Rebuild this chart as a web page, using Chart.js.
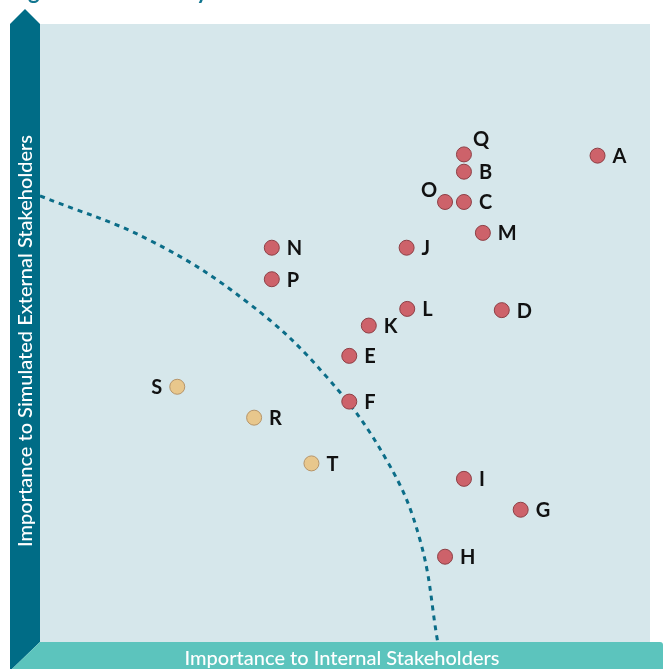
<!DOCTYPE html>
<html>
<head>
<meta charset="utf-8">
<script src="https://cdn.jsdelivr.net/npm/chart.js@4"></script>
<style>
  html, body { margin: 0; padding: 0; background: #fff; }
  canvas { display: block; }
</style>
</head>
<body>
<canvas id="matrix" width="663" height="669"></canvas>
<script>
// Issue positions (x = internal, y = external), 0-10 scale
const redLabels = ['A', 'Q', 'B', 'O', 'C', 'M', 'J', 'N', 'P', 'L', 'D', 'K', 'E', 'F', 'I', 'G', 'H'];
const redX = [9.14, 6.95, 6.95, 6.64, 6.95, 7.26, 6.01, 3.80, 3.80, 6.02, 7.57, 5.39, 5.07, 5.07, 6.95, 7.88, 6.64];
const redY = [7.87, 7.89, 7.61, 7.12, 7.12, 6.62, 6.38, 6.38, 5.87, 5.39, 5.37, 5.12, 4.63, 3.89, 2.64, 2.14, 1.38];

const tanLabels = ['S', 'R', 'T'];
const tanX = [2.25, 3.51, 4.45];
const tanY = [4.13, 3.63, 2.89];

// where the letter sits relative to its dot
const labelSide = { Q: 'upRight', O: 'upLeft', S: 'left' };

// dashed threshold curve
const curveX = [0, 1.80, 3.41, 4.70, 5.69, 6.23, 6.52];
const curveY = [7.22, 6.50, 5.49, 4.29, 2.93, 1.65, 0];

const xTitle = 'Importance to Internal Stakeholders';
const yTitle = 'Importance to Simulated External Stakeholders';
const figTitle = 'Figure 3: Materiality Matrix';

const toPoints = (xs, ys) => xs.map((x, i) => ({ x: x, y: ys[i] }));

// background panel + frame arrows
const framePlugin = {
    id: 'frame',
    beforeDraw(chart) {
        const ctx = chart.ctx;
        const a = chart.chartArea;
        ctx.save();
        ctx.fillStyle = '#d6e7eb';
        ctx.fillRect(a.left, a.top, a.right - a.left, a.bottom - a.top);

        // title (mostly cut off at top)
        ctx.fillStyle = '#127690';
        ctx.font = 'bold 22px Lato';
        ctx.textBaseline = 'alphabetic';
        ctx.textAlign = 'left';
        ctx.fillText(figTitle, 10, -1);

        // left axis bar with arrow tip
        ctx.fillStyle = '#006c86';
        ctx.beginPath();
        ctx.moveTo(10, 669);
        ctx.lineTo(10, a.top);
        ctx.lineTo(25, 9);
        ctx.lineTo(a.left, a.top);
        ctx.lineTo(a.left, a.bottom);
        ctx.lineTo(12, 669);
        ctx.closePath();
        ctx.fill();

        // bottom axis bar
        ctx.fillStyle = '#5cc4bd';
        ctx.beginPath();
        ctx.moveTo(a.left, a.bottom);
        ctx.lineTo(660, a.bottom);
        ctx.quadraticCurveTo(663, a.bottom, 663, a.bottom + 3);
        ctx.lineTo(663, 669);
        ctx.lineTo(12, 669);
        ctx.closePath();
        ctx.fill();

        ctx.fillStyle = '#ffffff';
        ctx.font = '500 20px Lato';
        ctx.textAlign = 'center';
        ctx.textBaseline = 'middle';
        ctx.fillText(xTitle, 342, 659);

        ctx.translate(26, 341);
        ctx.rotate(-Math.PI / 2);
        ctx.fillText(yTitle, 0, 0);
        ctx.restore();
    }
};

// letters beside the dots
const letterPlugin = {
    id: 'letters',
    afterDatasetsDraw(chart) {
        const ctx = chart.ctx;
        ctx.save();
        ctx.fillStyle = '#111';
        ctx.font = 'bold 20px Lato';
        ctx.textBaseline = 'middle';
        [0, 1].forEach(di => {
            const ds = chart.data.datasets[di];
            const meta = chart.getDatasetMeta(di);
            meta.data.forEach((el, i) => {
                const name = ds.names[i];
                const side = labelSide[name] || 'right';
                let x = el.x + 15, y = el.y + 1;
                ctx.textAlign = 'left';
                if (side === 'upRight') { x = el.x + 9; y = el.y - 15; }
                if (side === 'upLeft') { ctx.textAlign = 'right'; x = el.x - 8; y = el.y - 11; }
                if (side === 'left') { ctx.textAlign = 'right'; x = el.x - 15; }
                ctx.fillText(name, x, y);
            });
        });
        ctx.restore();
    }
};

new Chart(document.getElementById('matrix').getContext('2d'), {
    type: 'scatter',
    data: {
        datasets: [
            {
                label: 'Material',
                names: redLabels,
                data: toPoints(redX, redY),
                backgroundColor: '#cd626a',
                borderColor: '#8e4046',
                borderWidth: 1,
                pointRadius: 7.5,
                order: 1
            },
            {
                label: 'Other',
                names: tanLabels,
                data: toPoints(tanX, tanY),
                backgroundColor: '#e8c78c',
                borderColor: '#b6956a',
                borderWidth: 1,
                pointRadius: 7.5,
                order: 1
            },
            {
                label: 'Threshold',
                type: 'line',
                data: toPoints(curveX, curveY),
                borderColor: '#0b6d88',
                borderWidth: 3,
                borderDash: [5, 5],
                pointRadius: 0,
                fill: false,
                tension: 0.4,
                order: 2
            }
        ]
    },
    options: {
        responsive: false,
        animation: false,
        layout: { padding: { left: 40, right: 13, top: 24, bottom: 27 } },
        plugins: {
            legend: { display: false },
            tooltip: { enabled: false }
        },
        scales: {
            x: { type: 'linear', min: 0, max: 10, display: false },
            y: { type: 'linear', min: 0, max: 10, display: false }
        }
    },
    plugins: [framePlugin, letterPlugin]
});
</script>
</body>
</html>
